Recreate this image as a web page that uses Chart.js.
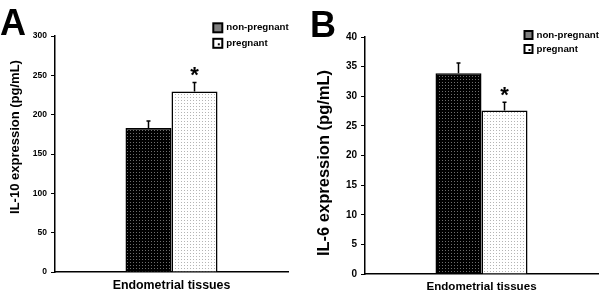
<!DOCTYPE html>
<html>
<head>
<meta charset="utf-8">
<script src="https://cdn.jsdelivr.net/npm/chart.js@4.4.1/dist/chart.umd.min.js"></script>
<style>
  body { margin: 0; background: #fff; }
  .wrap { width: 600px; height: 294px; display: flex; }
  .panel { position: relative; width: 300px; height: 294px; }
</style>
</head>
<body>
<div class="wrap">
  <div class="panel"><canvas id="chartA" width="300" height="294"></canvas></div>
  <div class="panel"><canvas id="chartB" width="300" height="294"></canvas></div>
</div>
<script>
// data
const categories = ['Endometrial tissues'];
const groups = ['non-pregnant', 'pregnant'];
const il10Means = [183, 229.5];
const il10Errors = [9, 11.5];
const il6Means = [33.9, 27.6];
const il6Errors = [1.7, 1.4];
const significant = [false, true];
const il10Ticks = { max: 300, step: 50 };
const il6Ticks = { max: 40, step: 5 };

const FONT = '"Liberation Sans", Arial, sans-serif';

function dotPattern(bg, dot) {
    const c = document.createElement('canvas');
    c.width = 3;
    c.height = 3;
    const g = c.getContext('2d');
    g.fillStyle = bg;
    g.fillRect(0, 0, 3, 3);
    g.fillStyle = dot;
    g.fillRect(1, 1, 1, 1);
    return g.createPattern(c, 'repeat');
}

const darkFill = dotPattern('#000000', '#6e6e6e');
const lightFill = dotPattern('#ffffff', '#b4b4b4');

// error bars, stars, legend, panel letter and y title
const extras = {
    id: 'extras',
    afterDatasetsDraw(chart) {
        const o = chart.options.plugins.extras;
        const ctx = chart.ctx;
        const y = chart.scales.y;
        ctx.save();

        chart.data.datasets.forEach(function(ds, i) {
            const bar = chart.getDatasetMeta(i).data[0];
            const top = y.getPixelForValue(ds.data[0] + o.errors[i]);
            ctx.strokeStyle = '#000';
            ctx.lineWidth = 1.5;
            ctx.beginPath();
            ctx.moveTo(bar.x, bar.y);
            ctx.lineTo(bar.x, top);
            ctx.moveTo(bar.x - 2, top);
            ctx.lineTo(bar.x + 2, top);
            ctx.stroke();
            if (significant[i]) {
                ctx.fillStyle = '#000';
                ctx.font = 'bold 22px ' + FONT;
                ctx.textAlign = 'center';
                ctx.textBaseline = 'alphabetic';
                ctx.fillText('*', bar.x, top);
            }
        });

        // legend
        const L = o.legend;
        ctx.font = 'bold ' + L.font + 'px ' + FONT;
        ctx.textAlign = 'left';
        ctx.textBaseline = 'middle';
        groups.forEach(function(name, i) {
            const by = L.y + i * L.gap;
            ctx.fillStyle = i === 0 ? '#808080' : '#ffffff';
            ctx.fillRect(L.x, by, L.size, L.size);
            ctx.strokeStyle = '#000';
            ctx.lineWidth = 2;
            ctx.strokeRect(L.x, by, L.size, L.size);
            if (i === 1) {
                ctx.fillStyle = '#000';
                ctx.fillRect(L.x + L.size / 2, by + L.size / 2, 2, 2);
            }
            ctx.fillStyle = '#000';
            ctx.fillText(name, L.x + L.size + 4, by + L.size / 2);
        });

        // panel letter
        ctx.font = 'bold 36px ' + FONT;
        ctx.textBaseline = 'alphabetic';
        ctx.fillText(o.letter, o.letterX, o.letterY);

        // rotated y title
        ctx.translate(o.titleX, o.titleY);
        ctx.rotate(-Math.PI / 2);
        ctx.font = 'bold ' + o.titleSize + 'px ' + FONT;
        ctx.textAlign = 'center';
        ctx.textBaseline = 'middle';
        ctx.fillText(o.title, 0, 0);
        ctx.restore();
    }
};

function makeChart(id, means, errors, ticks, p) {
    const ctx = document.getElementById(id).getContext('2d');
    return new Chart(ctx, {
        type: 'bar',
        data: {
            labels: categories,
            datasets: [{
                label: groups[0],
                data: [means[0]],
                backgroundColor: darkFill,
                borderColor: '#000',
                borderWidth: 1.5
            }, {
                label: groups[1],
                data: [means[1]],
                backgroundColor: lightFill,
                borderColor: '#000',
                borderWidth: 1.5
            }]
        },
        options: {
            responsive: false,
            animation: false,
            layout: { padding: { top: p.top, right: p.right, bottom: 0, left: 0 } },
            datasets: { bar: { barPercentage: 1, categoryPercentage: 0.395 } },
            plugins: {
                legend: { display: false },
                tooltip: { enabled: false },
                extras: {
                    errors: errors,
                    legend: p.legend,
                    letter: p.letter,
                    letterX: p.letterX,
                    letterY: p.letterY,
                    title: p.title,
                    titleSize: p.titleSize,
                    titleX: p.titleX,
                    titleY: p.titleY
                }
            },
            scales: {
                x: {
                    grid: { display: false },
                    border: { display: true, color: '#000', width: 1.5 },
                    ticks: { display: false },
                    title: {
                        display: true,
                        text: categories[0],
                        color: '#000',
                        font: { family: FONT, size: p.xTitleSize, weight: 'bold' },
                        padding: { top: 0, bottom: p.xTitlePad }
                    },
                    afterFit: function(s) { s.height = p.xHeight; }
                },
                y: {
                    min: 0,
                    max: ticks.max,
                    ticks: {
                        stepSize: ticks.step,
                        color: '#000',
                        padding: 4,
                        font: { family: FONT, size: p.tickSize, weight: 'bold' }
                    },
                    grid: { drawOnChartArea: false, drawTicks: true, tickLength: 4, color: '#000', lineWidth: 1 },
                    border: { display: true, color: '#000', width: 1.5 },
                    afterFit: function(s) { s.width = p.yWidth; }
                }
            }
        },
        plugins: [extras]
    });
}

makeChart('chartA', il10Means, il10Errors, il10Ticks, {
    top: 36, right: 12, yWidth: 55, xHeight: 22, xTitleSize: 12.4, xTitlePad: 1, tickSize: 8.5,
    legend: { x: 213.3, y: 23.3, size: 9, gap: 15.5, font: 9.7 },
    letter: 'A', letterX: 0, letterY: 35,
    title: 'IL-10 expression (pg/mL)', titleSize: 13, titleX: 15, titleY: 137
});

makeChart('chartB', il6Means, il6Errors, il6Ticks, {
    top: 37, right: 2, yWidth: 65, xHeight: 20, xTitleSize: 11.6, xTitlePad: 0, tickSize: 10,
    legend: { x: 224.5, y: 31, size: 8, gap: 14, font: 9.7 },
    letter: 'B', letterX: 10, letterY: 37,
    title: 'IL-6 expression (pg/mL)', titleSize: 16.5, titleX: 24, titleY: 163
});
</script>
</body>
</html>
